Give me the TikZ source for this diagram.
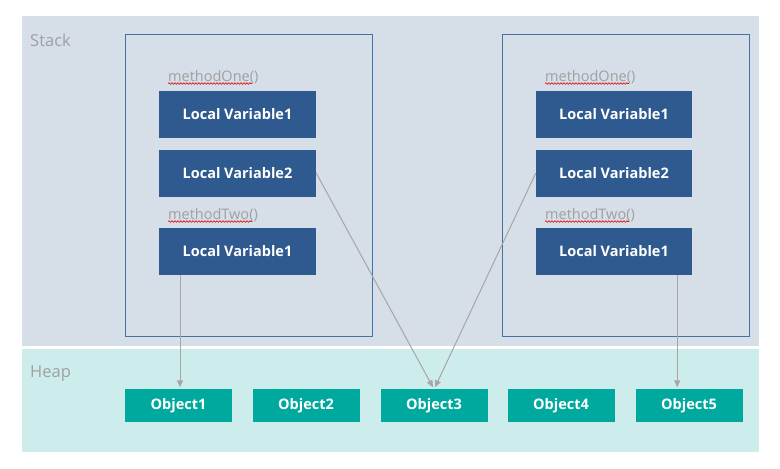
\documentclass[tikz,border=0pt]{standalone}
\usepackage{fontspec}
\setmainfont{Open Sans}
\usetikzlibrary{arrows.meta,decorations.pathmorphing,calc}
\definecolor{stackbg}{HTML}{D6DEE8}
\definecolor{heapbg}{HTML}{CCEDEB}
\definecolor{varblue}{HTML}{2F5A8F}
\definecolor{frameblue}{HTML}{4472A6}
\definecolor{objteal}{HTML}{00A99D}
\definecolor{arrowgray}{HTML}{A6A6A6}
\definecolor{labelgray}{HTML}{A0A0A0}
\tikzset{
  varbox/.style={fill=varblue, text=white, font=\bfseries\fontsize{14.5}{16}\selectfont, minimum width=157pt, minimum height=47pt, inner sep=0pt, draw=none},
  objbox/.style={fill=objteal, text=white, font=\bfseries\fontsize{14.5}{16}\selectfont, minimum width=107pt, minimum height=33pt, inner sep=0pt, draw=none},
  methlabel/.style={text=labelgray, font=\fontsize{14.5}{16}\selectfont, anchor=base west, inner sep=0pt},
  arealabel/.style={text=labelgray, font=\fontsize{16.5}{18}\selectfont, anchor=base west, inner sep=0pt},
  framebox/.style={draw=frameblue, line width=1pt},
  ref/.style={draw=arrowgray, line width=1pt, -{Triangle[length=7pt,width=6pt]}},
  squiggle/.style={draw=red!85!black, line width=0.6pt, decorate, decoration={snake, amplitude=0.8pt, segment length=3pt}}
}
\begin{document}
\begin{tikzpicture}[x=1pt,y=-1pt]
\useasboundingbox (0,0) rectangle (780,469);
% panels
\fill[stackbg] (22,16) rectangle (759,346);
\fill[heapbg] (22,349) rectangle (759,452);
\node[arealabel] (stacklbl) at (30,46) {Stack};
\node[arealabel] (heaplbl) at (30,377) {Heap};
% frames
\draw[framebox] (125,34) rectangle (372,336);
\draw[framebox] (502,34) rectangle (749,336);
% left thread
\node[methlabel] (lone) at (168,81) {methodOne()};
\node[varbox] (lva) at (237.5,114.5) {Local Variable1};
\node[varbox] (lvb) at (237.5,173) {Local Variable2};
\node[methlabel] (ltwo) at (168,219) {methodTwo()};
\node[varbox] (lvc) at (237.5,251) {Local Variable1};
% right thread
\node[methlabel] (rone) at (545,81) {methodOne()};
\node[varbox, minimum width=156pt] (rva) at (614,114.5) {Local Variable1};
\node[varbox, minimum width=156pt] (rvb) at (614,173) {Local Variable2};
\node[methlabel] (rtwo) at (545,219) {methodTwo()};
\node[varbox, minimum width=156pt] (rvc) at (614,251) {Local Variable1};
% squiggles
\draw[squiggle] ($(lone.base west)+(0,2.5)$) -- ++(84,0);
\draw[squiggle] ($(ltwo.base west)+(0,2.5)$) -- ++(84,0);
\draw[squiggle] ($(rone.base west)+(0,2.5)$) -- ++(84,0);
\draw[squiggle] ($(rtwo.base west)+(0,2.5)$) -- ++(84,0);
% objects
\node[objbox] (o1) at (178.5,405.5) {Object1};
\node[objbox] (o2) at (306,405.5) {Object2};
\node[objbox] (o3) at (434,405.5) {Object3};
\node[objbox] (o4) at (561,405.5) {Object4};
\node[objbox] (o5) at (689,405.5) {Object5};
% references
\coordinate (o1top) at ($(o1.north)+(1.5,-1.5)$);
\draw[ref] (lvc.south -| o1top) -- (o1top);
\coordinate (o3topl) at ($(o3.north)+(-1,-1.5)$);
\coordinate (o3topr) at ($(o3.north)+(1,-1.5)$);
\draw[ref] (lvb.east) -- (o3topl);
\draw[ref] (rvb.west) -- (o3topr);
\coordinate (rvcfoot) at ($(rvc.south east)+(-15,0)$);
\draw[ref] (rvcfoot) -- (rvcfoot |- o3topr);
\end{tikzpicture}
\end{document}
